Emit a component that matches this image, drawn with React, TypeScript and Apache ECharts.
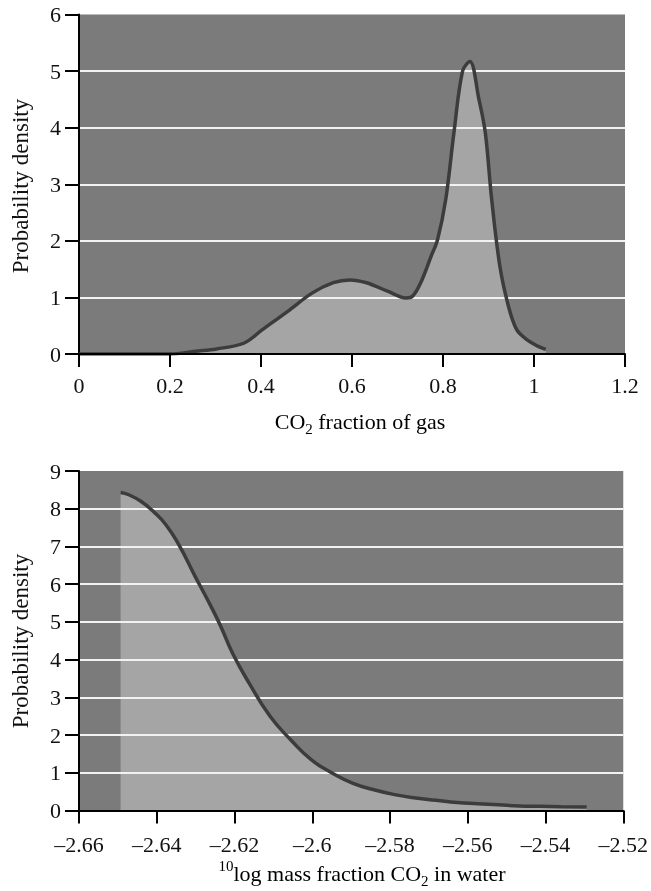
import React, { useEffect, useRef } from "react";
import * as echarts from "echarts";

// Top panel: CO2 fraction of gas
const gasX = [0, 0.1, 0.2, 0.256, 0.302, 0.362, 0.403, 0.458, 0.513, 0.559, 0.595, 0.632, 0.678, 0.719, 0.733, 0.751, 0.774, 0.788, 0.806, 0.824, 0.843, 0.859, 0.879, 0.893, 0.907, 0.925, 0.944, 0.962, 0.985, 1.008, 1.026];
const gasDensity = [0, 0, 0, 0.05, 0.09, 0.19, 0.43, 0.75, 1.08, 1.26, 1.31, 1.26, 1.11, 0.99, 1.02, 1.26, 1.73, 2.02, 2.73, 3.91, 5.0, 5.17, 4.5, 3.91, 2.73, 1.55, 0.84, 0.43, 0.25, 0.14, 0.08];

// Bottom panel: 10log mass fraction CO2 in water
const waterX = [-2.6493, -2.6472, -2.644, -2.6408, -2.6376, -2.6343, -2.6301, -2.6269, -2.6237, -2.6205, -2.6162, -2.6108, -2.6055, -2.6002, -2.5948, -2.5895, -2.5841, -2.5788, -2.5734, -2.5681, -2.5627, -2.5574, -2.5521, -2.5467, -2.5414, -2.536, -2.5294];
const waterDensity = [8.43, 8.37, 8.19, 7.92, 7.57, 7.04, 6.2, 5.58, 4.92, 4.17, 3.37, 2.49, 1.87, 1.34, 0.99, 0.72, 0.55, 0.42, 0.33, 0.27, 0.21, 0.18, 0.15, 0.12, 0.11, 0.1, 0.09];

const gasTicks = { min: 0, max: 1.2, interval: 0.2 };
const gasYTicks = { min: 0, max: 6, interval: 1 };
const waterTicks = { min: -2.66, max: -2.52, interval: 0.02 };
const waterYTicks = { min: 0, max: 9, interval: 1 };

const yTitle = "Probability density";
const gasTitle = "CO{sub|2} fraction of gas";
const waterTitle = "{sup|10}log mass fraction CO{sub|2} in water";

const FONT = "Liberation Serif";
const BG = "#7b7b7b";
const FILL = "#a5a5a5";
const LINE = "#3c3c3c";
const GRIDLINE = "#f2f2f2";

function pairs(xs: number[], ys: number[]) {
  return xs.map((x, i) => [x, ys[i]]);
}

function splitColors(n: number) {
  const arr: string[] = [];
  for (let i = 0; i <= n; i++) arr.push(i === 0 || i === n ? "rgba(0,0,0,0)" : GRIDLINE);
  return arr;
}

const richStyles = {
  main: { fontFamily: FONT, fontSize: 22, color: "#111", lineHeight: 30 },
  sub: { fontFamily: FONT, fontSize: 15, color: "#111", lineHeight: 14, verticalAlign: "bottom" },
  sup: { fontFamily: FONT, fontSize: 15, color: "#111", lineHeight: 14, verticalAlign: "top" },
};

export default function App() {
  const ref = useRef<HTMLDivElement>(null);
  useEffect(() => {
    if (!ref.current) return;
    const chart = echarts.init(ref.current, undefined, { renderer: "svg" });
    const fmtX = (v: number) => String(+v.toFixed(2)).replace("-", "\u2013");
    const xAxisBase = (ticks: any, gridIndex: number, margin: number) => ({
      type: "value",
      gridIndex,
      min: ticks.min,
      max: ticks.max,
      interval: ticks.interval,
      z: 5,
      axisLine: { show: true, onZero: false, lineStyle: { color: "#000", width: 2 } },
      axisTick: { show: true, inside: false, length: 13, lineStyle: { color: "#000", width: 2 } },
      axisLabel: { color: "#111", fontFamily: FONT, fontSize: 22, margin, formatter: fmtX },
      splitLine: { show: false },
    });
    const yAxisBase = (ticks: any, gridIndex: number) => ({
      type: "value",
      gridIndex,
      min: ticks.min,
      max: ticks.max,
      interval: ticks.interval,
      z: 3,
      axisLine: { show: true, lineStyle: { color: "#000", width: 2 } },
      axisTick: { show: true, length: 14, lineStyle: { color: "#000", width: 2 } },
      axisLabel: { color: "#111", fontFamily: FONT, fontSize: 22, margin: 18 },
      splitLine: {
        show: true,
        lineStyle: { color: splitColors((ticks.max - ticks.min) / ticks.interval), width: 2 },
      },
    });
    const gasData = pairs(gasX, gasDensity);
    const waterData = pairs(waterX, waterDensity);
    const areaSeries = (data: number[][], idx: number, smooth: number) => ({
      type: "line",
      xAxisIndex: idx,
      yAxisIndex: idx,
      data,
      z: 2,
      symbol: "none",
      smooth,
      lineStyle: { width: 0, opacity: 0 },
      areaStyle: { color: FILL, opacity: 1 },
      silent: true,
    });
    const lineSeries = (data: number[][], idx: number, smooth: number) => ({
      type: "line",
      xAxisIndex: idx,
      yAxisIndex: idx,
      data,
      z: 4,
      symbol: "none",
      smooth,
      lineStyle: { width: 3.5, color: LINE },
      silent: true,
    });
    chart.setOption({
      animation: false,
      grid: [
        { left: 79, top: 14.5, width: 546, height: 339.5, show: true, backgroundColor: BG, borderWidth: 0 },
        { left: 79, top: 471, width: 545, height: 339.5, show: true, backgroundColor: BG, borderWidth: 0 },
      ],
      xAxis: [xAxisBase(gasTicks, 0, 20), xAxisBase(waterTicks, 1, 23)],
      yAxis: [yAxisBase(gasYTicks, 0), yAxisBase(waterYTicks, 1)],
      series: [
        areaSeries(gasData, 0, 0.35),
        lineSeries(gasData, 0, 0.35),
        areaSeries(waterData, 1, 0.5),
        lineSeries(waterData, 1, 0.5),
      ],
      graphic: [
        {
          type: "text",
          x: 20,
          y: 186,
          rotation: Math.PI / 2,
          style: { text: yTitle, fontFamily: FONT, fontSize: 23, fill: "#111", align: "center", verticalAlign: "middle" },
        },
        {
          type: "text",
          x: 20,
          y: 641,
          rotation: Math.PI / 2,
          style: { text: yTitle, fontFamily: FONT, fontSize: 23, fill: "#111", align: "center", verticalAlign: "middle" },
        },
        {
          type: "text",
          x: 360,
          y: 421,
          style: {
            text: "{main|" + gasTitle.replace("{sub|2}", "}{sub|2}{main|") + "}",
            rich: richStyles,
            align: "center",
            verticalAlign: "middle",
          },
        },
        {
          type: "text",
          x: 362,
          y: 873,
          style: {
            text: waterTitle.replace("{sup|10}", "{sup|10}{main|").replace("{sub|2}", "}{sub|2}{main|") + "}",
            rich: richStyles,
            align: "center",
            verticalAlign: "middle",
          },
        },
      ],
    });
    return () => chart.dispose();
  }, []);
  return <div ref={ref} style={{ position: "fixed", left: 0, top: 0, width: 651, height: 891 }} />;
}
